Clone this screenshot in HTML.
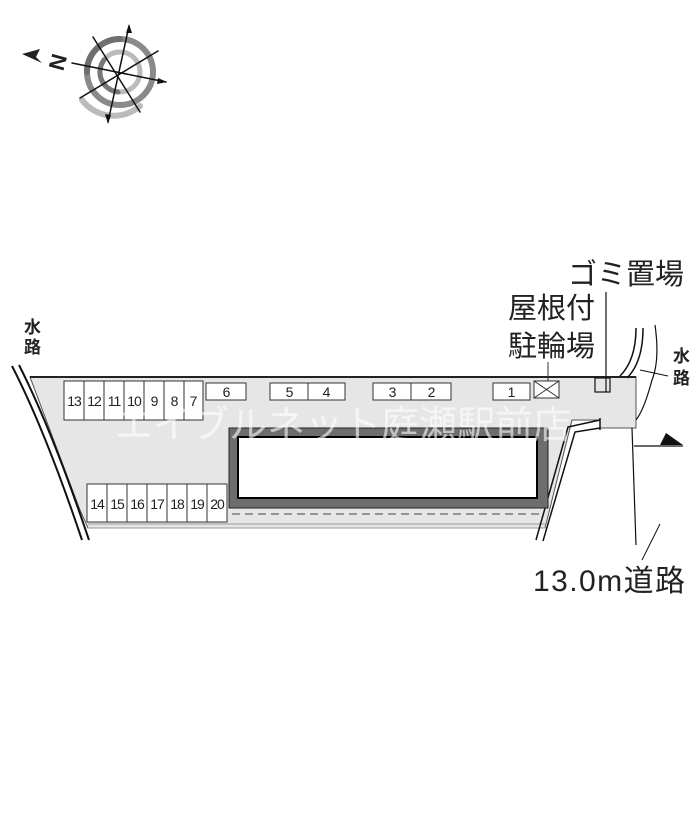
<!DOCTYPE html>
<html><head><meta charset="utf-8"><style>
html,body{margin:0;padding:0;background:#fff;width:700px;height:822px;overflow:hidden}
svg{display:block}
text{font-family:"Liberation Sans","Noto Sans CJK JP",sans-serif;fill:#222}
</style></head><body>
<svg width="700" height="822" viewBox="0 0 700 822">
<!-- compass -->
<g stroke-linecap="round">
<circle cx="120" cy="72" r="33" fill="none" stroke="#8a8a8a" stroke-width="6"/>
<path d="M120 39 A33 33 0 0 0 87 72" fill="none" stroke="#6f6f6f" stroke-width="6"/>
<circle cx="120" cy="72" r="20" fill="none" stroke="#bbb" stroke-width="5"/>
<path d="M104 60 A20 20 0 0 0 118 92" fill="none" stroke="#777" stroke-width="5"/>
<path d="M82 100 A40 40 0 0 0 140 106" fill="none" stroke="#bbb" stroke-width="6"/>
<g stroke="#111" stroke-width="1.5">
<line x1="72" y1="63" x2="166" y2="82"/>
<line x1="129" y1="26" x2="108" y2="122"/>
<line x1="93" y1="37" x2="140" y2="112"/>
<line x1="80" y1="98" x2="158" y2="51"/>
</g>
<polygon points="129,24 126,33 132,33" fill="#111"/>
<polygon points="108,124 105,114 111,115" fill="#111"/>
<polygon points="167,82 158,78 157,84" fill="#111"/>
<polygon points="22,54 40,49 36,57 42,63" fill="#222"/>
<text x="48" y="68" font-size="22" font-weight="bold" transform="rotate(-75 58 60)" fill="#222">N</text>
</g>

<!-- lot -->
<polygon points="30,377 636,377 636,428 600,428 600,420 572,420 545,528 88,528 80,510" fill="#e6e6e6" stroke="#555" stroke-width="1"/>
<line x1="30" y1="377" x2="636" y2="377" stroke="#222" stroke-width="2"/>
<line x1="88" y1="528" x2="545" y2="528" stroke="#999" stroke-width="1"/>
<line x1="88" y1="524" x2="545" y2="524" stroke="#999" stroke-width="1"/>
<!-- left waterway -->
<path d="M12 366 Q45 430 82 540" fill="none" stroke="#111" stroke-width="2"/>
<path d="M19 365 Q52 430 89 540" fill="none" stroke="#111" stroke-width="2"/>
<!-- right diagonal road -->
<path d="M536 540 L568 427 L600 420" fill="none" stroke="#111" stroke-width="1.5"/>
<path d="M543 541 L575 432 L600 428" fill="none" stroke="#111" stroke-width="1.5"/>
<line x1="600" y1="418" x2="600" y2="430" stroke="#111" stroke-width="1.5"/>
<!-- right waterway -->
<path d="M620 376 Q636 360 636 328" fill="none" stroke="#111" stroke-width="1.5"/>
<path d="M627 378 Q643 362 643 328" fill="none" stroke="#111" stroke-width="1.5"/>
<path d="M655 325 Q660 360 652 380 Q644 410 636 420" fill="none" stroke="#111" stroke-width="1.2"/>
<line x1="640" y1="370" x2="668" y2="376" stroke="#111" stroke-width="1"/>
<rect x="595" y="378" width="15" height="14" fill="#e6e6e6" stroke="#111" stroke-width="1.2"/>
<line x1="606" y1="292" x2="606" y2="392" stroke="#111" stroke-width="1.2"/>
<!-- road line -->
<line x1="632" y1="428" x2="636" y2="545" stroke="#111" stroke-width="1.2"/>
<line x1="634" y1="446" x2="683" y2="446" stroke="#111" stroke-width="1.2"/>
<polygon points="660,445 683,445 666,433" fill="#111"/>
<line x1="642" y1="560" x2="660" y2="524" stroke="#111" stroke-width="1"/>
<!-- building -->
<rect x="229" y="428" width="319" height="80" fill="#6d6d6d" stroke="#222"/>
<rect x="238" y="437" width="299" height="61" fill="#fff" stroke="#000" stroke-width="2"/>
<line x1="232" y1="514" x2="540" y2="514" stroke="#444" stroke-width="1" stroke-dasharray="8 5"/>
<!-- stalls -->
<g fill="#fff" stroke="#333" stroke-width="1">
<rect x="64" y="381" width="20" height="39"/><rect x="84" y="381" width="20" height="39"/>
<rect x="104" y="381" width="20" height="39"/><rect x="124" y="381" width="20" height="39"/>
<rect x="144" y="381" width="20" height="39"/><rect x="164" y="381" width="20" height="39"/>
<rect x="184" y="381" width="19" height="39"/>
<rect x="87" y="484" width="20" height="38"/><rect x="107" y="484" width="20" height="38"/>
<rect x="127" y="484" width="20" height="38"/><rect x="147" y="484" width="20" height="38"/>
<rect x="167" y="484" width="20" height="38"/><rect x="187" y="484" width="20" height="38"/>
<rect x="207" y="484" width="20" height="38"/>
<rect x="206" y="383" width="40" height="17"/>
<rect x="270" y="383" width="38" height="17"/><rect x="308" y="383" width="37" height="17"/>
<rect x="373" y="383" width="38" height="17"/><rect x="411" y="383" width="40" height="17"/>
<rect x="493" y="383" width="37" height="17"/>
<rect x="534" y="381" width="25" height="17"/>
</g>
<line x1="534" y1="381" x2="559" y2="398" stroke="#333"/><line x1="559" y1="381" x2="534" y2="398" stroke="#333"/>
<line x1="548" y1="362" x2="548" y2="381" stroke="#333"/>
<g font-size="14" text-anchor="middle" letter-spacing="-1">
<text x="74" y="406">13</text><text x="94" y="406">12</text><text x="114" y="406">11</text>
<text x="134" y="406">10</text><text x="154" y="406">9</text><text x="174" y="406">8</text><text x="193" y="406">7</text>
<text x="226" y="397">6</text><text x="289" y="397">5</text><text x="326" y="397">4</text>
<text x="392" y="397">3</text><text x="431" y="397">2</text><text x="511" y="397">1</text>
<text x="97" y="509">14</text><text x="117" y="509">15</text><text x="137" y="509">16</text>
<text x="157" y="509">17</text><text x="177" y="509">18</text><text x="197" y="509">19</text><text x="217" y="509">20</text>
</g>
<!-- watermark -->
<text x="115" y="438" font-size="38" style="fill:#fff" opacity="0.6">エイブルネット庭瀬駅前店</text>
<!-- labels -->
<g font-size="17" font-weight="bold">
<text x="24" y="333">水</text><text x="24" y="353">路</text>
<text x="673" y="362">水</text><text x="673" y="384">路</text>
</g>
<g font-size="29">
<text x="568" y="284">ゴミ置場</text>
<text x="508" y="318">屋根付</text>
<text x="508" y="356">駐輪場</text>
<text x="533" y="591" font-size="30" textLength="152">13.0m道路</text>
</g>
</svg>
</body></html>
